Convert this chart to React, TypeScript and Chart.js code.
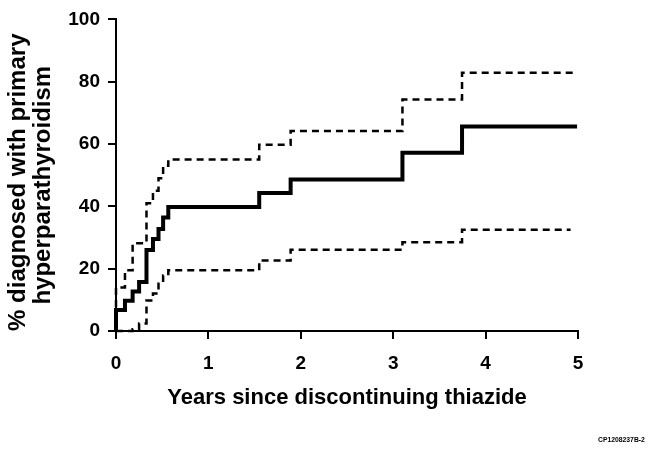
import React, { useEffect, useRef } from "react";
import { Chart, registerables } from "chart.js";

Chart.register(...registerables);

// Kaplan-Meier estimate (solid) and 95% confidence limits (dashed)
const mainYears = [0, 0, 0.097, 0.18, 0.25, 0.33, 0.40, 0.46, 0.51, 0.566, 1.55, 1.89, 3.10, 3.745, 4.99];
const mainPct = [0, 6.7, 9.7, 12.7, 15.7, 26, 29.5, 32.7, 36.4, 39.8, 44.3, 48.6, 57.2, 65.6, 65.6];

const upperYears = [0, 0, 0.097, 0.18, 0.33, 0.40, 0.46, 0.51, 0.566, 1.55, 1.89, 3.10, 3.745, 4.97];
const upperPct = [0, 14, 19.5, 28.2, 41, 45, 49, 53, 55, 59.8, 64.2, 74.3, 82.9, 82.9];

const lowerYears = [0, 0.18, 0.25, 0.33, 0.40, 0.46, 0.51, 0.566, 1.55, 1.89, 3.10, 3.745, 4.92];
const lowerPct = [0, 0.6, 2.4, 9.8, 12, 15.2, 17.8, 19.5, 22.6, 26.1, 28.5, 32.5, 32.5];

const xTickLabels = ["0", "1", "2", "3", "4", "5"];
const yTickLabels = ["0", "20", "40", "60", "80", "100"];

const xTitle = "Years since discontinuing thiazide";
const yTitle = ["% diagnosed with primary", "hyperparathyroidism"];
const footnote = "CP1208237B-2";

const FONT = "'Liberation Sans', Arial, Helvetica, sans-serif";

const toPoints = (xs: number[], ys: number[]) => xs.map((x, i) => ({ x, y: ys[i] }));

const textPlugin = {
  id: "extraText",
  afterDraw(chart: any) {
    const ctx = chart.ctx;
    const area = chart.chartArea;
    ctx.save();
    ctx.fillStyle = "#000";
    // rotated y-axis title, two lines
    ctx.font = `bold 24px ${FONT}`;
    ctx.textAlign = "center";
    ctx.textBaseline = "middle";
    const cy = (area.top + area.bottom) / 2 + 7;
    const lineX = [18, 43];
    yTitle.forEach((line, i) => {
      ctx.save();
      ctx.translate(lineX[i], cy + i * 3);
      ctx.rotate(-Math.PI / 2);
      ctx.fillText(line, 0, 0);
      ctx.restore();
    });
    // footnote
    ctx.font = `bold 6.8px ${FONT}`;
    ctx.textAlign = "left";
    ctx.fillText(footnote, 598, 440.5);
    ctx.restore();
  },
};

export default function App() {
  const ref = useRef<HTMLCanvasElement | null>(null);

  useEffect(() => {
    if (!ref.current) return;
    const chart = new Chart(ref.current, {
      type: "line",
      data: {
        datasets: [
          {
            label: "KM",
            data: toPoints(mainYears, mainPct),
            borderColor: "#000",
            borderWidth: 4,
            stepped: true,
            pointRadius: 0,
            fill: false,
            clip: false,
            order: 0,
          },
          {
            label: "Upper",
            data: toPoints(upperYears, upperPct),
            borderColor: "#000",
            borderWidth: 2.5,
            borderDash: [7, 5],
            stepped: true,
            pointRadius: 0,
            fill: false,
            clip: false,
            order: 1,
          },
          {
            label: "Lower",
            data: toPoints(lowerYears, lowerPct),
            borderColor: "#000",
            borderWidth: 2.5,
            borderDash: [7, 5],
            stepped: true,
            pointRadius: 0,
            fill: false,
            clip: false,
            order: 2,
          },
        ],
      },
      options: {
        animation: false,
        responsive: false,
        layout: { padding: { top: 16, right: 82, left: 0, bottom: 0 } },
        plugins: {
          legend: { display: false },
          tooltip: { enabled: false },
        },
        scales: {
          x: {
            type: "linear",
            min: 0,
            max: 5,
            ticks: {
              stepSize: 1,
              color: "#000",
              font: { family: FONT, size: 19, weight: "bold" },
              padding: 13,
              callback: (v: any) => xTickLabels[Math.round(Number(v))] ?? "",
            },
            grid: { drawOnChartArea: false, drawTicks: true, tickLength: 8, color: "#000", lineWidth: 2 },
            border: { color: "#000", width: 2 },
            title: {
              display: true,
              text: xTitle,
              color: "#000",
              font: { family: FONT, size: 22, weight: "bold" },
              padding: { top: 0, bottom: 40 },
            },
            afterFit: (s: any) => {
              s.height = 120;
            },
          },
          y: {
            type: "linear",
            min: 0,
            max: 100,
            ticks: {
              stepSize: 20,
              color: "#000",
              font: { family: FONT, size: 19, weight: "bold" },
              padding: 8,
              callback: (v: any) => yTickLabels[Math.round(Number(v) / 20)] ?? "",
            },
            grid: { drawOnChartArea: false, drawTicks: true, tickLength: 8, color: "#000", lineWidth: 2 },
            border: { color: "#000", width: 2 },
            title: { display: false },
            afterFit: (s: any) => {
              s.width = 116;
            },
          },
        },
      } as any,
      plugins: [textPlugin],
    });
    return () => chart.destroy();
  }, []);

  return (
    <div style={{ position: "fixed", left: 0, top: 0, width: 660, height: 451, background: "#fff" }}>
      <canvas ref={ref} width={660} height={451} style={{ width: 660, height: 451, display: "block" }} />
    </div>
  );
}
